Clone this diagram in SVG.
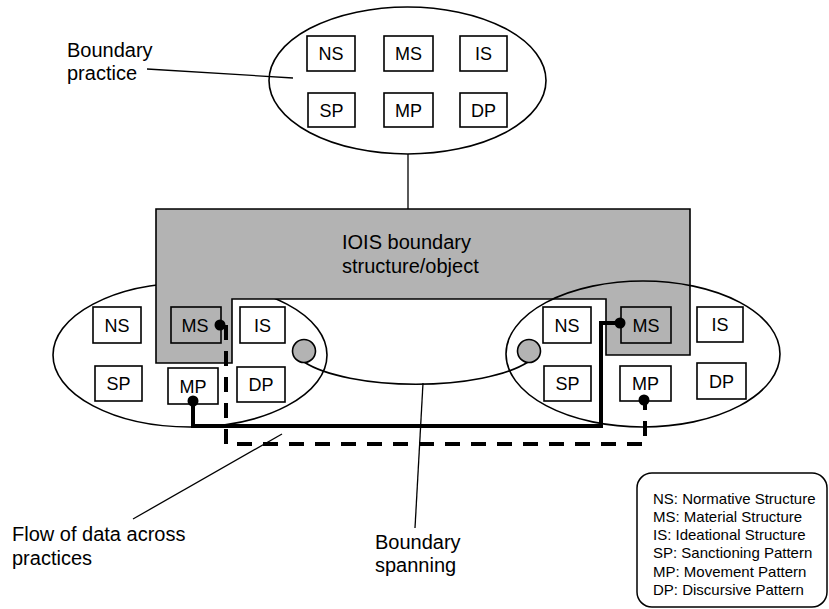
<svg xmlns="http://www.w3.org/2000/svg" width="829" height="609" viewBox="0 0 829 609">
<style>
text{font-family:"Liberation Sans",Arial,sans-serif;fill:#000}
.lbl{font-size:20px}
.bx{font-size:18px;text-anchor:middle}
.leg{font-size:15px}
.box{fill:#fff;stroke:#000;stroke-width:1.6}
.gbox{fill:#b3b3b3;stroke:#000;stroke-width:1.6}
.ell{fill:none;stroke:#000;stroke-width:1.6}
.thin{fill:none;stroke:#000;stroke-width:1.3}
</style>
<rect width="829" height="609" fill="#fff"/>

<g id="left-practice">
<ellipse class="ell" cx="190" cy="355" rx="137" ry="72"/>
</g>

<g id="boundary-object">
<path d="M156,209 H690 V355 H606 V299 H232 V363 H156 Z" fill="#b3b3b3" stroke="#000" stroke-width="1.6"/>
<text class="lbl" x="342" y="249">IOIS boundary</text>
<text class="lbl" x="342" y="273">structure/object</text>
</g>

<g id="right-practice">
<ellipse class="ell" cx="643" cy="354" rx="137" ry="73"/>
</g>

<g id="boundary-spanning">
<path class="ell" d="M304,362 A125 40 0 0 0 528,362"/>
<circle cx="304" cy="351" r="11.5" fill="#b3b3b3" stroke="#000" stroke-width="1.6"/>
<circle cx="529" cy="351" r="11.5" fill="#b3b3b3" stroke="#000" stroke-width="1.6"/>
</g>

<g id="top-practice">
<ellipse class="ell" cx="407.5" cy="80.5" rx="138.5" ry="73.5"/>
<rect class="box" x="307" y="36" width="48" height="35"/><text class="bx" x="331" y="60">NS</text>
<rect class="box" x="384" y="36" width="49" height="35"/><text class="bx" x="408.5" y="60">MS</text>
<rect class="box" x="460" y="36" width="47" height="35"/><text class="bx" x="483.5" y="60">IS</text>
<rect class="box" x="308" y="93" width="47" height="34"/><text class="bx" x="331.5" y="116.5">SP</text>
<rect class="box" x="384" y="93" width="49" height="34"/><text class="bx" x="408.5" y="116.5">MP</text>
<rect class="box" x="460" y="93" width="47" height="34"/><text class="bx" x="483.5" y="116.5">DP</text>
</g>

<g id="left-boxes">
<rect class="box" x="93" y="307" width="48" height="36"/><text class="bx" x="117" y="331.5">NS</text>
<rect class="gbox" x="171" y="307" width="50" height="36"/><text class="bx" x="195" y="331.5">MS</text>
<rect class="box" x="240" y="307" width="45" height="36"/><text class="bx" x="262.5" y="331.5">IS</text>
<rect class="box" x="95" y="366" width="47" height="35"/><text class="bx" x="118.5" y="390">SP</text>
<rect class="box" x="168" y="368" width="50" height="36"/><text class="bx" x="193" y="392.5">MP</text>
<rect class="box" x="237" y="367" width="48" height="35"/><text class="bx" x="261" y="391">DP</text>
</g>

<g id="right-boxes">
<rect class="box" x="543" y="307" width="48" height="36"/><text class="bx" x="567" y="331.5">NS</text>
<rect class="gbox" x="621" y="307" width="50" height="36"/><text class="bx" x="646" y="331.5">MS</text>
<rect class="box" x="697" y="307" width="46" height="35"/><text class="bx" x="720" y="331">IS</text>
<rect class="box" x="544" y="366" width="47" height="35"/><text class="bx" x="567.5" y="390">SP</text>
<rect class="box" x="620" y="366" width="51" height="35"/><text class="bx" x="645.5" y="390">MP</text>
<rect class="box" x="697" y="363" width="49" height="36"/><text class="bx" x="721.5" y="387.5">DP</text>
</g>

<g id="connectors">
<line class="thin" x1="408" y1="154" x2="408" y2="209"/>
<line class="thin" x1="147" y1="69" x2="293" y2="78"/>
<line class="thin" x1="133" y1="519" x2="282" y2="434"/>
<line class="thin" x1="415" y1="528" x2="423" y2="383"/>
<path d="M193,401 V426 H601 V323 H620" fill="none" stroke="#000" stroke-width="4"/>
<path d="M226,325 V444 H645 V400" fill="none" stroke="#000" stroke-width="4" stroke-dasharray="15 11"/>
<circle cx="193" cy="401" r="5.5"/>
<circle cx="620" cy="323" r="5.5"/>
<circle cx="220" cy="325" r="5.5"/>
<circle cx="644" cy="400" r="5.5"/>
</g>

<g id="labels">
<text class="lbl" x="67" y="57">Boundary</text>
<text class="lbl" x="67" y="80">practice</text>
<text class="lbl" x="12" y="541">Flow of data across</text>
<text class="lbl" x="12" y="565">practices</text>
<text class="lbl" x="375" y="549">Boundary</text>
<text class="lbl" x="375" y="572">spanning</text>
</g>

<g id="legend">
<rect x="637" y="473" width="190" height="134" rx="15" fill="#fff" stroke="#000" stroke-width="1.5"/>
<text class="leg" x="653" y="504">NS: Normative Structure</text>
<text class="leg" x="653" y="522">MS: Material Structure</text>
<text class="leg" x="653" y="540">IS: Ideational Structure</text>
<text class="leg" x="653" y="558">SP: Sanctioning Pattern</text>
<text class="leg" x="653" y="577">MP: Movement Pattern</text>
<text class="leg" x="653" y="595">DP: Discursive Pattern</text>
</g>
</svg>
